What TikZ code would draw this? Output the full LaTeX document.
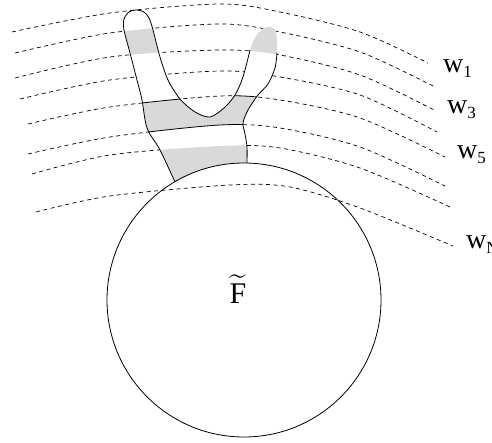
\documentclass[tikz,border=0pt]{standalone}
\usepackage{graphicx}
\usepackage{fontspec}
\setmainfont{Liberation Serif}
\newcommand{\curveA}{plot[smooth] coordinates {(12,32) (110,13) (220,4) (280,12) (360,32) (428,63)}}
\newcommand{\curveB}{plot[smooth] coordinates {(15,53) (110,33) (220,24) (280,32) (360,52) (433,86)}}
\newcommand{\curveC}{plot[smooth] coordinates {(15,78) (110,57) (220,50) (280,55) (360,75) (434,110)}}
\newcommand{\curveD}{plot[smooth] coordinates {(20,99) (110,80) (220,71) (280,77) (360,95) (437,132)}}
\newcommand{\curveE}{plot[smooth] coordinates {(28,124) (110,107) (220,96) (280,100) (360,118) (445,157)}}
\newcommand{\curveF}{plot[smooth] coordinates {(28,154) (110,137) (220,125) (280,128) (360,147) (445,186)}}
\newcommand{\curveG}{plot[smooth] coordinates {(32,174) (110,155) (220,146) (280,148) (360,168) (450,207)}}
\newcommand{\curveH}{plot[smooth] coordinates {(36,212) (110,196) (230,185) (290,187) (360,208) (453,246)}}
\newcommand{\blobpath}{plot[smooth] coordinates {(175,182) (160,150) (147,128) (142,100)
  (137,80) (130,53) (124,30) (124,19) (129,12) (136,10) (144,12) (149,18) (153,30) (160,57)
  (168,80) (180,99) (195,112) (210,117) (224,108) (235,95) (243,77) (250,50) (256,36)
  (264,28) (271,27) (276,32) (277,53) (275,68) (268,84) (258,95) (248,110) (243,123)
  (245,134) (247,147) (247,163)} arc[start angle=271.2, end angle=239.7, radius=137] -- cycle}
\newcommand{\lowsub}[1]{\raisebox{-4.5pt}{\fontsize{17}{20}\selectfont #1}}

\begin{document}
\begin{tikzpicture}[x=1pt, y=-1pt,
  dashline/.style={dash pattern=on 4pt off 3.5pt, line width=0.7pt},
  outline/.style={line width=0.8pt},
  band/.style={fill=black!15},
  lab/.style={font=\fontsize{28}{32}\selectfont, inner sep=0pt, anchor=base west}]
\useasboundingbox (0,0) rectangle (492,443);
\foreach \c in {\curveA,\curveB,\curveC,\curveD,\curveE,\curveF,\curveG,\curveH}
  \draw[dashline] \c;
\fill[white] \blobpath;
\begin{scope}
  \clip \blobpath;
  \begin{scope}
    \clip (0,0) rectangle (200,300);
    \clip \curveB -- (440,300) -- (10,300) -- cycle;
    \fill[band] \curveC -- (440,-20) -- (10,-20) -- cycle;
  \end{scope}
  \begin{scope}
    \clip (200,-20) rectangle (460,300);
    \fill[band] \curveC -- (440,-20) -- (10,-20) -- cycle;
  \end{scope}
  \begin{scope}
    \clip \curveE -- (450,300) -- (20,300) -- cycle;
    \fill[band] \curveF -- (450,-20) -- (20,-20) -- cycle;
  \end{scope}
  \fill[band] \curveG -- (455,300) -- (25,300) -- cycle;
  \draw[outline] \curveE;
  \draw[outline] \curveF;
\end{scope}
\draw[outline] plot[smooth] coordinates {(175,182) (160,150) (147,128) (142,100)
  (137,80) (130,53) (124,30) (124,19) (129,12) (136,10) (144,12) (149,18) (153,30) (160,57)
  (168,80) (180,99) (195,112) (210,117) (224,108) (235,95) (243,77) (250,50)};
\draw[outline] plot[smooth] coordinates {(277,53) (275,68) (268,84) (258,95) (248,110)
  (243,123) (245,134) (247,147) (247,163)};
\draw[outline] (244,300) circle[radius=137];
\node (tildeF) at (238,289) {\scalebox{3}{$\widetilde{\mbox{F}}$}};
\node[lab] (w1) at (443,73) {w\lowsub{1}};
\node[lab] (w3) at (447,114) {w\lowsub{3}};
\node[lab] (w5) at (457,159) {w\lowsub{5}};
\node[lab] (wN) at (466,249) {w\lowsub{N}};
\end{tikzpicture}
\end{document}
